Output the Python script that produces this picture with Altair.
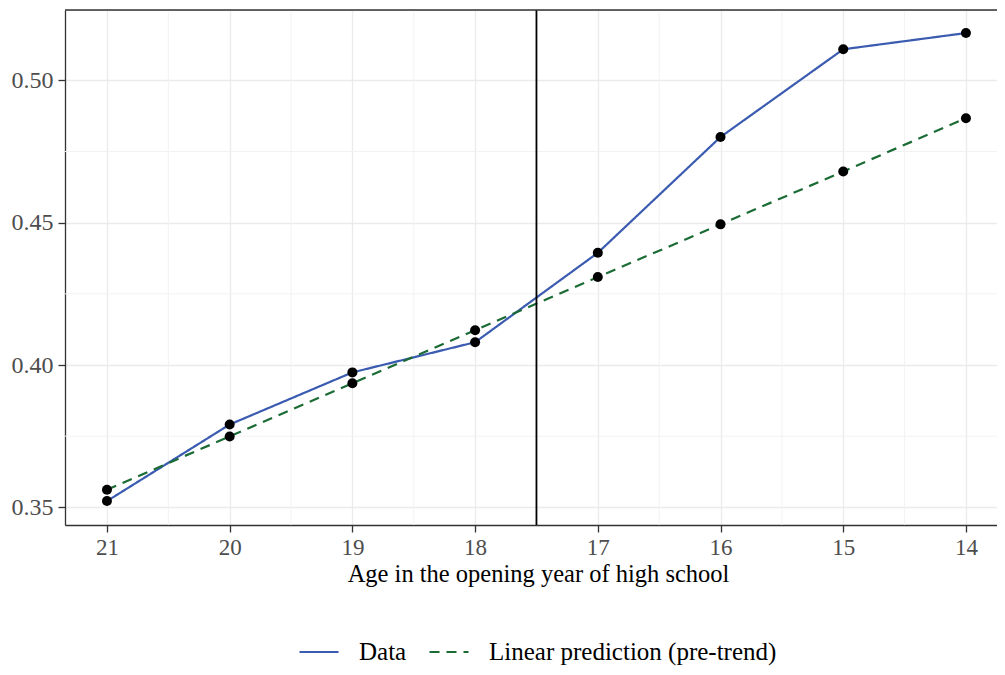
import altair as alt
import pandas as pd

ages = [21, 20, 19, 18, 17, 16, 15, 14]
data_vals = [0.3522, 0.3791, 0.3974, 0.4080, 0.4394, 0.4801, 0.5109, 0.5166]
pred_vals = [0.3562, 0.3749, 0.3936, 0.4122, 0.4309, 0.4494, 0.4680, 0.4867]
series_names = ["Data", "Linear prediction (pre-trend)"]
series_colors = ["#3A5BB0", "#1B6B35"]
cutoff = [17.5]
x_ticks = [21, 20, 19, 18, 17, 16, 15, 14]
y_ticks = [0.35, 0.40, 0.45, 0.50]
minor_x = [20.5, 19.5, 18.5, 17.5, 16.5, 15.5, 14.5]
minor_y = [0.375, 0.425, 0.475]

rows = []
for a, v in zip(ages, data_vals):
    rows.append({"age": a, "value": v, "series": series_names[0]})
for a, v in zip(ages, pred_vals):
    rows.append({"age": a, "value": v, "series": series_names[1]})
df = pd.DataFrame(rows)

FONT = "Liberation Serif"
W, H = 932, 515
xscale = alt.Scale(domain=[13.747, 21.342], reverse=True, nice=False, zero=False)
yscale = alt.Scale(domain=[0.3438, 0.5247], nice=False, zero=False)

xaxis = alt.Axis(values=x_ticks, title="Age in the opening year of high school",
                 format="d", grid=True, gridColor="#EBEBEB", gridWidth=1.3,
                 domain=True, domainColor="#333333", domainWidth=1.3,
                 tickColor="#333333", tickSize=7, tickWidth=1.3,
                 labelFont=FONT, labelFontSize=23, labelColor="#4D4D4D", labelPadding=4,
                 titleFont=FONT, titleFontSize=24.5, titleFontWeight="normal", titleColor="#000000",
                 titlePadding=3, titleX=473, titleAlign="center")
yaxis = alt.Axis(values=y_ticks, title=None, format=".2f", grid=True, gridColor="#EBEBEB",
                 gridWidth=1.3, domain=True, domainColor="#333333", domainWidth=1.3,
                 tickColor="#333333", tickSize=7, tickWidth=1.3,
                 labelFont=FONT, labelFontSize=24, labelColor="#4D4D4D", labelPadding=5)

legend = alt.Legend(title=None, orient="none", direction="horizontal",
                    legendX=233, legendY=621, padding=0, symbolType="stroke",
                    symbolSize=1521, symbolStrokeWidth=2.2,
                    labelFont=FONT, labelFontSize=25, labelColor="#000000",
                    labelOffset=19, columnPadding=18, labelLimit=500)

mx = alt.Chart(pd.DataFrame({"x": minor_x})).mark_rule(color="#F2F2F2", strokeWidth=1).encode(
    x=alt.X("x:Q", scale=xscale, axis=xaxis))
my = alt.Chart(pd.DataFrame({"y": minor_y})).mark_rule(color="#F2F2F2", strokeWidth=1).encode(
    y=alt.Y("y:Q", scale=yscale, axis=yaxis))

lines = alt.Chart(df).mark_line(strokeWidth=2.2).encode(
    x=alt.X("age:Q", scale=xscale, axis=xaxis),
    y=alt.Y("value:Q", scale=yscale, axis=yaxis),
    color=alt.Color("series:N", scale=alt.Scale(domain=series_names, range=series_colors),
                    legend=legend),
    strokeDash=alt.StrokeDash("series:N",
                              scale=alt.Scale(domain=series_names, range=[[1, 0], [10, 7]]),
                              legend=legend),
    detail="series:N",
)

points = alt.Chart(df).mark_circle(size=100, color="#000000", opacity=1).encode(
    x=alt.X("age:Q", scale=xscale, axis=xaxis),
    y=alt.Y("value:Q", scale=yscale, axis=yaxis),
)

vline = alt.Chart(pd.DataFrame({"x": cutoff})).mark_rule(color="#000000", strokeWidth=1.8).encode(
    x=alt.X("x:Q", scale=xscale, axis=xaxis))

top_border = alt.Chart(pd.DataFrame({"k": [0]})).mark_rule(color="#333333", strokeWidth=1.3).encode(
    x=alt.value(0), x2=alt.value(W), y=alt.value(0))

chart = alt.layer(mx, my, lines, points, vline, top_border).properties(
    width=W, height=H,
    autosize=alt.AutoSizeParams(type="none"),
    padding={"left": 57, "top": 2, "right": 0, "bottom": 142},
).configure_view(stroke=None).configure(background="white")

chart.save("out.html", embed_options={"renderer": "svg", "actions": False})
